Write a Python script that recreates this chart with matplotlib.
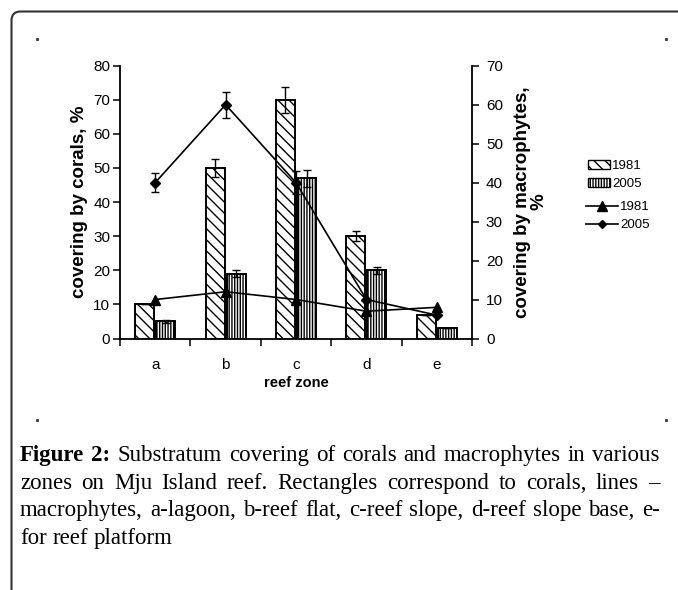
import matplotlib
matplotlib.use("Agg")
import matplotlib.pyplot as plt
from matplotlib.patches import Patch, FancyBboxPatch
from matplotlib.lines import Line2D
import numpy as np

# ---------------- data ----------------
zones = ["a", "b", "c", "d", "e"]
corals_1981 = [10, 50, 70, 30, 7]
corals_1981_err = [0, 2.5, 3.8, 1.5, 0]
corals_2005 = [5, 19, 47, 20, 3]
corals_2005_err = [0.5, 1.0, 2.5, 1.0, 0]
macro_1981 = [10, 12, 10, 7, 8]
macro_2005 = [40, 60, 40, 10, 6]
macro_2005_err = [2.5, 3.3, 3.0, 0, 0]
legend_labels = ["1981", "2005", "1981", "2005"]

caption_lines = [
    [("Figure 2:", "bold"), ("Substratum covering of corals and macrophytes in various", "normal")],
    [("zones on Mju Island reef. Rectangles correspond to corals, lines \u2013", "normal")],
    [("macrophytes, a-lagoon, b-reef flat, c-reef slope, d-reef slope base, e-", "normal")],
    [("for reef platform", "normal")],
]

W, H = 678, 590
plt.rcParams["font.family"] = ["Liberation Sans", "DejaVu Sans"]
plt.rcParams["hatch.linewidth"] = 1.0

fig = plt.figure(figsize=(W / 100, H / 100), dpi=100)

def fx(px):
    return px / W

def fy(py):
    return 1 - py / H

ax = fig.add_axes([fx(120), fy(338.5), fx(472) - fx(120), fy(65.7) - fy(338.5)])
ax.set_xlim(-0.5, 4.5)
ax.set_ylim(0, 80)
ax2 = ax.twinx()
ax2.set_ylim(0, 70)

x = np.arange(len(zones))
bw = 0.27
off = 0.15
ax.bar(x - off, corals_1981, bw, color="white", edgecolor="black", hatch="\\\\\\", linewidth=1.4, zorder=2)
ax.bar(x + off, corals_2005, bw, color="white", edgecolor="black", hatch="||||||", linewidth=1.4, zorder=2)
ax.errorbar(x - off, corals_1981, yerr=corals_1981_err, fmt="none", ecolor="black", elinewidth=1, capsize=3, zorder=3)
ax.errorbar(x + off, corals_2005, yerr=corals_2005_err, fmt="none", ecolor="black", elinewidth=1, capsize=3, zorder=3)

ax2.plot(x, macro_1981, color="black", lw=1.2, marker="^", ms=6.5)
ax2.errorbar(x, macro_2005, yerr=macro_2005_err, color="black", lw=1.2, marker="D", ms=5,
             elinewidth=1, capsize=3)

for a in (ax, ax2):
    a.spines["top"].set_visible(False)
    for s in a.spines.values():
        s.set_linewidth(1.3)
ax.spines["right"].set_visible(False)
ax2.spines["left"].set_visible(False)
ax2.spines["bottom"].set_visible(False)

ax.set_yticks(np.arange(0, 81, 10))
ax2.set_yticks(np.arange(0, 71, 10))
ax.tick_params(axis="y", direction="out", length=5, width=1.1, labelsize=11, pad=2)
ax2.tick_params(axis="y", direction="out", length=5, width=1.1, labelsize=11, pad=5)
ax.set_xticks(np.arange(-0.5, 4.6, 1.0))
ax.set_xticklabels([])
ax.set_xticks(x, minor=True)
ax.set_xticklabels(zones, minor=True)
ax.tick_params(axis="x", which="major", direction="out", length=5, width=1.1)
ax.tick_params(axis="x", which="minor", length=0, labelsize=11, pad=14)

ax.set_xlabel("reef zone", fontsize=10.5, fontweight="bold", labelpad=3)
ax.set_ylabel("covering by corals, %", fontsize=13.5, fontweight="bold", labelpad=4)
ax2.set_ylabel("covering by macrophytes,\n%", fontsize=13.5, fontweight="bold", labelpad=8,
               rotation=90, linespacing=1.0)

# legends
hb = [Patch(facecolor="white", edgecolor="black", hatch="\\\\\\", lw=1.0),
      Patch(facecolor="white", edgecolor="black", hatch="||||||", lw=1.0)]
hl = [Line2D([], [], color="black", lw=1.2, marker="^", ms=6.5),
      Line2D([], [], color="black", lw=1.2, marker="D", ms=4)]
leg1 = fig.legend(hb, legend_labels[:2], loc="upper left", bbox_to_anchor=(fx(588), fy(160)),
                  frameon=False, fontsize=9.5, handlelength=1.7, handleheight=0.7,
                  handletextpad=0.15, labelspacing=0.45, borderpad=0, borderaxespad=0)
leg2 = fig.legend(hl, legend_labels[2:], loc="upper left", bbox_to_anchor=(fx(586), fy(201)),
                  frameon=False, fontsize=9.5, handlelength=2.4,
                  handletextpad=0.2, labelspacing=0.45, borderpad=0, borderaxespad=0)

# frame
border = FancyBboxPatch((11.5 / 100, -0.5), 8.0, (H - 11.5) / 100 + 0.5,
                        boxstyle="round,pad=0,rounding_size=0.09",
                        transform=fig.dpi_scale_trans, facecolor="none",
                        edgecolor="#333333", linewidth=1.5, clip_on=False)
fig.patches.append(border)
for (px, py) in [(37, 39), (666, 39), (37, 420), (666, 420)]:
    fig.add_artist(Line2D([fx(px)], [fy(py)], marker="s", ms=1.2, color="#444444",
                          transform=fig.transFigure, lw=0))

# caption, justified
serif = ["Liberation Serif", "DejaVu Serif"]
renderer = fig.canvas.get_renderer()
x0, x1 = 20, 660
baselines = [461, 489, 516, 544]

def words_of(line):
    out = []
    for txt, wt in line:
        for w in txt.split(" "):
            out.append((w, wt))
    return out

def measure(words, fs):
    ws = []
    for w, wt in words:
        t = fig.text(0, 0, w, fontsize=fs, family=serif, weight=wt)
        ws.append(t.get_window_extent(renderer).width)
        t.remove()
    return ws

fs = 16.5
t = fig.text(0, 0, "a b", fontsize=fs, family=serif)
wab = t.get_window_extent(renderer).width
t.remove()
t = fig.text(0, 0, "ab", fontsize=fs, family=serif)
space = wab - t.get_window_extent(renderer).width
t.remove()
nat = []
for line in caption_lines[:3]:
    wd = words_of(line)
    ws = measure(wd, fs)
    nat.append(sum(ws) + space * 1.15 * (len(ws) - 1))
if max(nat) > (x1 - x0):
    scale = (x1 - x0) / max(nat)
    fs = fs * scale
    space = space * scale

for i, line in enumerate(caption_lines):
    wd = words_of(line)
    ws = measure(wd, fs)
    justify = i < 3
    gap = ((x1 - x0) - sum(ws)) / (len(ws) - 1) if (justify and len(ws) > 1) else space
    xp = x0
    for (w, wt), wdt in zip(wd, ws):
        fig.text(fx(xp), fy(baselines[i]), w, fontsize=fs, family=serif, weight=wt,
                 va="baseline", ha="left")
        xp += wdt + gap

fig.savefig("out.png", dpi=100)
